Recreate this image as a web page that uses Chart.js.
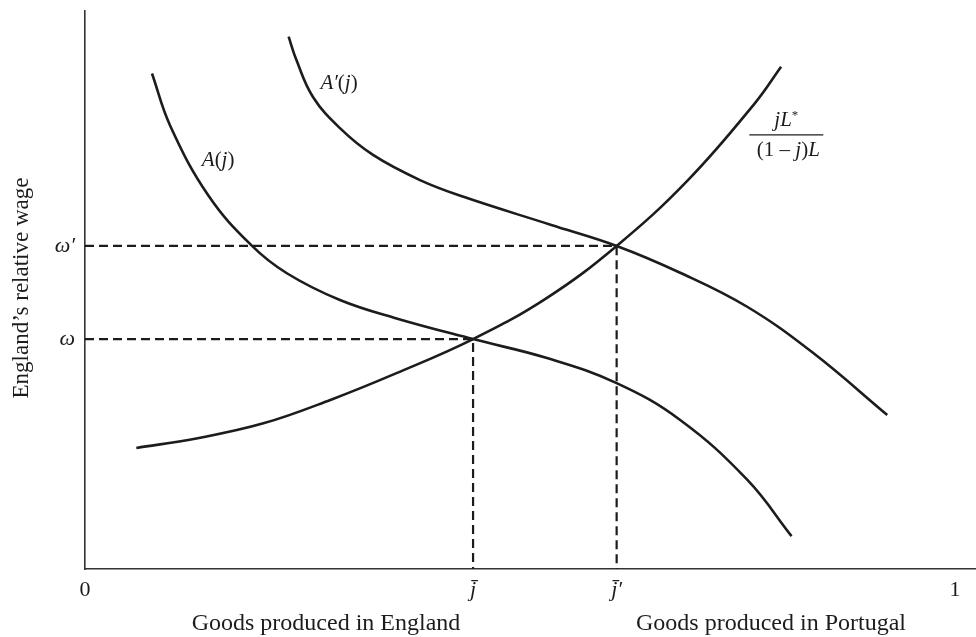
<!DOCTYPE html>
<html>
<head>
<meta charset="utf-8">
<script src="https://cdn.jsdelivr.net/npm/chart.js@4/dist/chart.umd.min.js"></script>
<style>
  html, body { margin: 0; padding: 0; background: #fff; }
</style>
</head>
<body>
<canvas id="wageChart" width="976" height="637"></canvas>
<script>
// equilibrium values
const omega = 0.412;
const omegaPrime = 0.579;
const jBar = 0.446;
const jBarPrime = 0.611;

// tick marks on the axes
const xTickValues = [0, jBar, jBarPrime, 1];
const xTickLabels = ['0', 'j\u0304', 'j\u0304\u2032', '1'];
const yTickValues = [omega, omegaPrime];
const yTickLabels = ['\u03c9', '\u03c9\u2032'];

// A(j)
const aX = [0.077, 0.098, 0.142, 0.192, 0.232, 0.293, 0.358, 0.446, 0.531, 0.611, 0.684, 0.761, 0.812];
const aY = [0.888, 0.794, 0.669, 0.579, 0.530, 0.482, 0.449, 0.412, 0.378, 0.333, 0.267, 0.160, 0.059];

// A'(j)
const aPrimeX = [0.234, 0.243, 0.262, 0.293, 0.331, 0.385, 0.435, 0.535, 0.611, 0.684, 0.761, 0.837, 0.922];
const aPrimeY = [0.954, 0.912, 0.846, 0.790, 0.742, 0.697, 0.667, 0.617, 0.579, 0.531, 0.470, 0.387, 0.276];

// jL* / ((1-j)L)
const ratioX = [0.059, 0.128, 0.205, 0.282, 0.358, 0.446, 0.531, 0.611, 0.693, 0.770, 0.800];
const ratioY = [0.217, 0.234, 0.261, 0.303, 0.351, 0.412, 0.486, 0.579, 0.697, 0.835, 0.900];

const FONT = '"Liberation Serif", "DejaVu Serif", serif';
const INK = '#1c1c1c';

function pts(xs, ys) {
    return xs.map((x, i) => ({ x: x, y: ys[i] }));
}

function curve(xs, ys) {
    return {
        data: pts(xs, ys),
        showLine: true,
        borderColor: INK,
        borderWidth: 2.6,
        pointRadius: 0,
        tension: 0.4,
        fill: false
    };
}

function dashed(xv, yv) {
    return {
        data: [{ x: 0, y: yv }, { x: xv, y: yv }, { x: xv, y: 0 }],
        showLine: true,
        borderColor: INK,
        borderWidth: 2.2,
        borderDash: [9, 5],
        pointRadius: 0,
        tension: 0,
        fill: false
    };
}

// draw a run of text pieces, some italic, centred on x
function drawRich(ctx, parts, x, y, size) {
    let total = 0;
    const widths = parts.map(p => {
        ctx.font = (p[1] ? 'italic ' : '') + (p[2] || size) + 'px ' + FONT;
        const w = ctx.measureText(p[0]).width;
        total += w;
        return w;
    });
    let cx = x - total / 2;
    parts.forEach((p, i) => {
        ctx.font = (p[1] ? 'italic ' : '') + (p[2] || size) + 'px ' + FONT;
        ctx.fillText(p[0], cx, y + (p[3] || 0));
        cx += widths[i];
    });
    return total;
}

const labelsPlugin = {
    id: 'labels',
    afterDraw(chart) {
        const ctx = chart.ctx;
        const xs = chart.scales.x;
        const ys = chart.scales.y;
        ctx.save();
        ctx.fillStyle = INK;
        ctx.textAlign = 'left';
        ctx.textBaseline = 'middle';

        // curve labels
        drawRich(ctx, [['A', true], ['(', false], ['j', true], [')', false]],
            xs.getPixelForValue(0.153), ys.getPixelForValue(0.733), 21);
        drawRich(ctx, [['A\u2032', true], ['(', false], ['j', true], [')', false]],
            xs.getPixelForValue(0.292), ys.getPixelForValue(0.870), 21);

        // fraction label
        const fx = xs.getPixelForValue(0.806);
        const fy = ys.getPixelForValue(0.778);
        drawRich(ctx, [['jL', true], ['*', false, 13, -5]], fx, fy - 14, 21);
        drawRich(ctx, [['(1 \u2013 ', false], ['j', true], [')', false], ['L', true]], fx + 2, fy + 16, 21);
        ctx.strokeStyle = INK;
        ctx.lineWidth = 1.4;
        ctx.beginPath();
        ctx.moveTo(fx - 37, fy);
        ctx.lineTo(fx + 37, fy);
        ctx.stroke();

        // axis titles
        ctx.textAlign = 'center';
        ctx.font = '24px ' + FONT;
        ctx.fillText('Goods produced in England', 326, 624);
        ctx.fillText('Goods produced in Portugal', 771, 624);

        ctx.font = '23px ' + FONT;
        ctx.translate(22, 288);
        ctx.rotate(-Math.PI / 2);
        ctx.fillText('England\u2019s relative wage', 0, 0);
        ctx.restore();
    }
};

document.addEventListener('DOMContentLoaded', function() {
    const canvas = document.getElementById('wageChart');

    new Chart(canvas, {
        type: 'scatter',
        data: {
            datasets: [
                dashed(jBarPrime, omegaPrime),
                dashed(jBar, omega),
                curve(aX, aY),
                curve(aPrimeX, aPrimeY),
                curve(ratioX, ratioY)
            ]
        },
        options: {
            responsive: false,
            animation: false,
            devicePixelRatio: 1,
            layout: { padding: { top: 11, right: 0, left: 0, bottom: 0 } },
            plugins: {
                legend: { display: false },
                tooltip: { enabled: false }
            },
            scales: {
                x: {
                    type: 'linear',
                    min: 0,
                    max: 1.024,
                    afterFit: function(scale) {
                        scale.height = 68;
                        scale.paddingLeft = 0;
                        scale.paddingRight = 0;
                    },
                    afterBuildTicks: function(scale) {
                        scale.ticks = xTickValues.map(v => ({ value: v }));
                    },
                    grid: { display: false, drawTicks: false },
                    border: { display: true, color: '#333', width: 1.6 },
                    ticks: {
                        autoSkip: false,
                        maxRotation: 0,
                        padding: 8,
                        color: INK,
                        font: function(c) {
                            const italic = c.index === 1 || c.index === 2;
                            return { family: FONT, size: 22, style: italic ? 'italic' : 'normal' };
                        },
                        callback: function(value, index) { return xTickLabels[index]; }
                    }
                },
                y: {
                    type: 'linear',
                    min: 0,
                    max: 1,
                    afterFit: function(scale) {
                        scale.width = 85;
                        scale.paddingTop = 0;
                        scale.paddingBottom = 0;
                    },
                    afterBuildTicks: function(scale) {
                        scale.ticks = yTickValues.map(v => ({ value: v }));
                    },
                    grid: { display: false, drawTicks: false },
                    border: { display: true, color: '#333', width: 1.6 },
                    ticks: {
                        autoSkip: false,
                        padding: 10,
                        color: INK,
                        font: { family: FONT, size: 22, style: 'italic' },
                        callback: function(value, index) { return yTickLabels[index]; }
                    }
                }
            }
        },
        plugins: [labelsPlugin]
    });
});
</script>
</body>
</html>
